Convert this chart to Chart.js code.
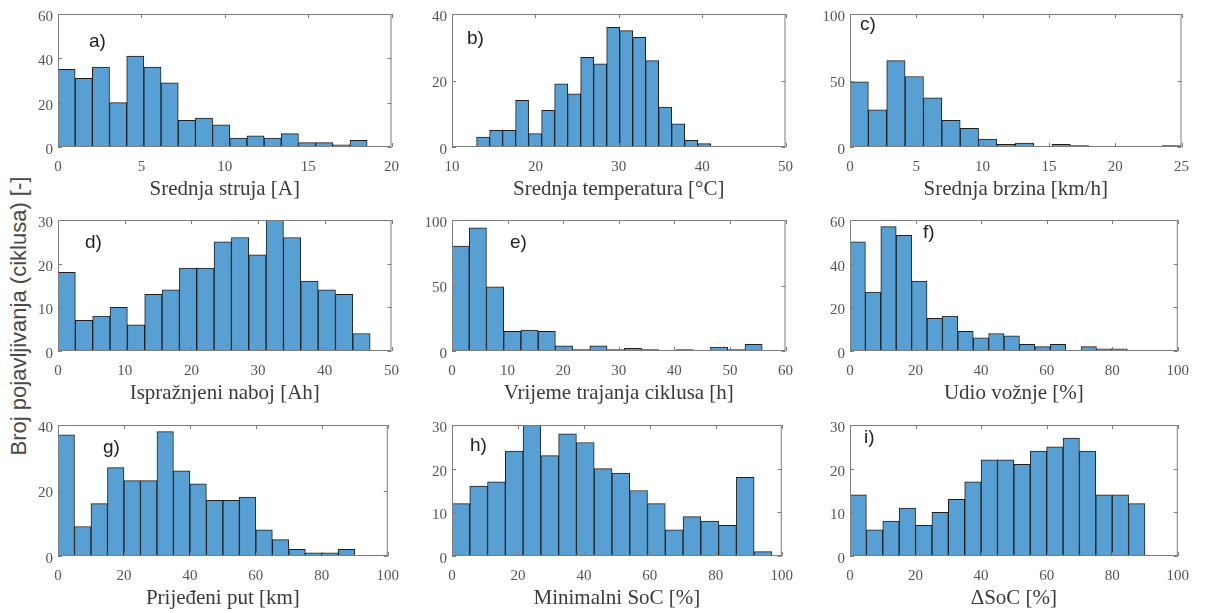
<!DOCTYPE html>
<html>
<head>
<meta charset="utf-8">
<script src="https://cdn.jsdelivr.net/npm/chart.js@4.4.0/dist/chart.umd.min.js"></script>
<style>
  body { margin: 0; background: #fff; width: 1210px; height: 613px; position: relative; overflow: hidden; }
  canvas { position: absolute; }
  .tag {
    position: absolute;
    font-family: "Liberation Sans", Arial, sans-serif;
    font-size: 19px;
    color: #222;
    transform: translateY(-50%);
    line-height: 1;
  }
  #ytitle {
    position: absolute;
    left: 19px;
    top: 316px;
    transform: translate(-50%, -50%) rotate(-90deg);
    font-family: "Liberation Sans", Arial, sans-serif;
    font-size: 22px;
    color: #4a4a4a;
    white-space: nowrap;
  }
</style>
</head>
<body>
<div id="ytitle">Broj pojavljivanja (ciklusa) [-]</div>
<script>
// Panel labels and axis titles
const panelTags = ['a)', 'b)', 'c)', 'd)', 'e)', 'f)', 'g)', 'h)', 'i)'];
const axisTitles = [
    'Srednja struja [A]', 'Srednja temperatura [°C]', 'Srednja brzina [km/h]',
    'Ispražnjeni naboj [Ah]', 'Vrijeme trajanja ciklusa [h]', 'Udio vožnje [%]',
    'Prijeđeni put [km]', 'Minimalni SoC [%]', 'ΔSoC [%]'
];

// Histogram bins (first edge and bin width per panel)
const binStarts = [0, 12.95, 0, 0, 0, 0, 0, 0, 0];
const binWidths = [1.03, 1.56, 1.385, 2.6, 3.1, 4.7, 5.0, 5.39, 5.0];

// Axis ranges and tick steps
const xMins  = [0, 10, 0, 0, 0, 0, 0, 0, 0];
const xMaxs  = [20, 50, 25, 50, 60, 100, 100, 100, 100];
const xSteps = [5, 10, 5, 10, 10, 20, 20, 20, 20];
const yMaxs  = [60, 40, 100, 30, 100, 60, 40, 30, 30];
const ySteps = [20, 20, 50, 10, 50, 20, 20, 10, 10];

// Counts per bin
const countsA = [35, 31, 36, 20, 41, 36, 29, 12, 13, 10, 4, 5, 4, 6, 2, 2, 1, 3];
const countsB = [3, 5, 5, 14, 4, 11, 19, 16, 27, 25, 36, 35, 33, 26, 12, 7, 2, 1];
const countsC = [49, 28, 65, 53, 37, 20, 14, 6, 2, 3, 0, 2, 1, 0, 0, 0, 0, 1];
const countsD = [18, 7, 8, 10, 6, 13, 14, 19, 19, 25, 26, 22, 30, 26, 16, 14, 13, 4];
const countsE = [80, 94, 49, 15, 16, 15, 4, 1, 4, 1, 2, 1, 0, 1, 0, 3, 1, 5];
const countsF = [50, 27, 57, 53, 32, 15, 16, 9, 6, 8, 7, 3, 2, 3, 0, 2, 1, 1];
const countsG = [37, 9, 16, 27, 23, 23, 38, 26, 22, 17, 17, 18, 8, 5, 2, 1, 1, 2];
const countsH = [12, 16, 17, 24, 30, 23, 28, 26, 20, 19, 15, 12, 6, 9, 8, 7, 18, 1];
const countsI = [14, 6, 8, 11, 7, 10, 13, 17, 22, 22, 21, 24, 25, 27, 24, 14, 14, 12];
const allCounts = [countsA, countsB, countsC, countsD, countsE, countsF, countsG, countsH, countsI];

// Layout of the 3x3 grid (plot areas in page pixels)
const colLeft = [58, 452, 850];
const colWidth = [340, 340, 338];
const rowTop = [12, 218, 423];
const rowHeight = [135, 133, 133];
const tagPos = [[89, 40], [467, 37], [860, 23], [85, 241], [510, 241], [923, 231], [103, 446], [470, 444], [864, 436]];

const PAD_L = 50, PAD_T = 12, PAD_R = 12, AXIS_H = 58;

// Box around the plot with inward ticks on all four sides
const boxTicks = {
    id: 'boxTicks',
    afterDatasetsDraw(chart) {
        const { ctx, chartArea: a, scales: { x, y } } = chart;
        ctx.save();
        ctx.strokeStyle = '#7d7d7d';
        ctx.lineWidth = 1;
        ctx.beginPath();
        x.ticks.forEach(t => {
            const px = Math.round(x.getPixelForValue(t.value)) + 0.5;
            ctx.moveTo(px, a.bottom); ctx.lineTo(px, a.bottom - 4);
            ctx.moveTo(px, a.top); ctx.lineTo(px, a.top + 4);
        });
        y.ticks.forEach(t => {
            const py = Math.round(y.getPixelForValue(t.value)) + 0.5;
            ctx.moveTo(a.left, py); ctx.lineTo(a.left + 4, py);
            ctx.moveTo(a.right, py); ctx.lineTo(a.right - 4, py);
        });
        ctx.stroke();
        ctx.strokeRect(a.left + 0.5, a.top + 0.5, a.width - 1, a.height - 1);
        ctx.restore();
    }
};

const tickFont = { family: '"Liberation Serif", "Times New Roman", serif', size: 15 };

allCounts.forEach((counts, p) => {
    const row = Math.floor(p / 3), col = p % 3;
    const w = colWidth[col] + PAD_L + PAD_R;
    const h = rowHeight[row] + PAD_T + AXIS_H;

    const canvas = document.createElement('canvas');
    canvas.width = w;
    canvas.height = h;
    canvas.style.left = (colLeft[col] - PAD_L) + 'px';
    canvas.style.top = (rowTop[row] - PAD_T) + 'px';
    document.body.appendChild(canvas);

    const tag = document.createElement('div');
    tag.className = 'tag';
    tag.textContent = panelTags[p];
    tag.style.left = tagPos[p][0] + 'px';
    tag.style.top = tagPos[p][1] + 'px';
    document.body.appendChild(tag);

    const points = counts.map((c, i) => ({ x: binStarts[p] + (i + 0.5) * binWidths[p], y: c }));

    new Chart(canvas, {
        type: 'bar',
        data: {
            datasets: [{
                data: points,
                backgroundColor: 'rgb(88, 160, 212)',
                borderColor: '#1f1f1f',
                borderWidth: 1,
                borderSkipped: false,
                barPercentage: 1,
                categoryPercentage: 1
            }]
        },
        options: {
            responsive: false,
            animation: false,
            layout: { padding: { left: 0, top: PAD_T, right: PAD_R, bottom: 0 } },
            plugins: { legend: { display: false }, tooltip: { enabled: false } },
            scales: {
                x: {
                    type: 'linear',
                    offset: false,
                    min: xMins[p],
                    max: xMaxs[p],
                    grid: { display: false, drawTicks: false, offset: false },
                    border: { display: false },
                    ticks: { stepSize: xSteps[p], color: '#555', font: tickFont, padding: 11, maxRotation: 0 },
                    title: {
                        display: true,
                        text: axisTitles[p],
                        color: '#3a3a3a',
                        font: { family: '"Liberation Serif", "Times New Roman", serif', size: 21 },
                        padding: { top: 0, bottom: 3 }
                    },
                    afterFit: s => { s.height = AXIS_H; }
                },
                y: {
                    min: 0,
                    max: yMaxs[p],
                    grid: { display: false, drawTicks: false },
                    border: { display: false },
                    ticks: { stepSize: ySteps[p], color: '#555', font: tickFont, padding: 5, labelOffset: 3 },
                    afterFit: s => { s.width = PAD_L; }
                }
            }
        },
        plugins: [boxTicks]
    });
});
</script>
</body>
</html>
